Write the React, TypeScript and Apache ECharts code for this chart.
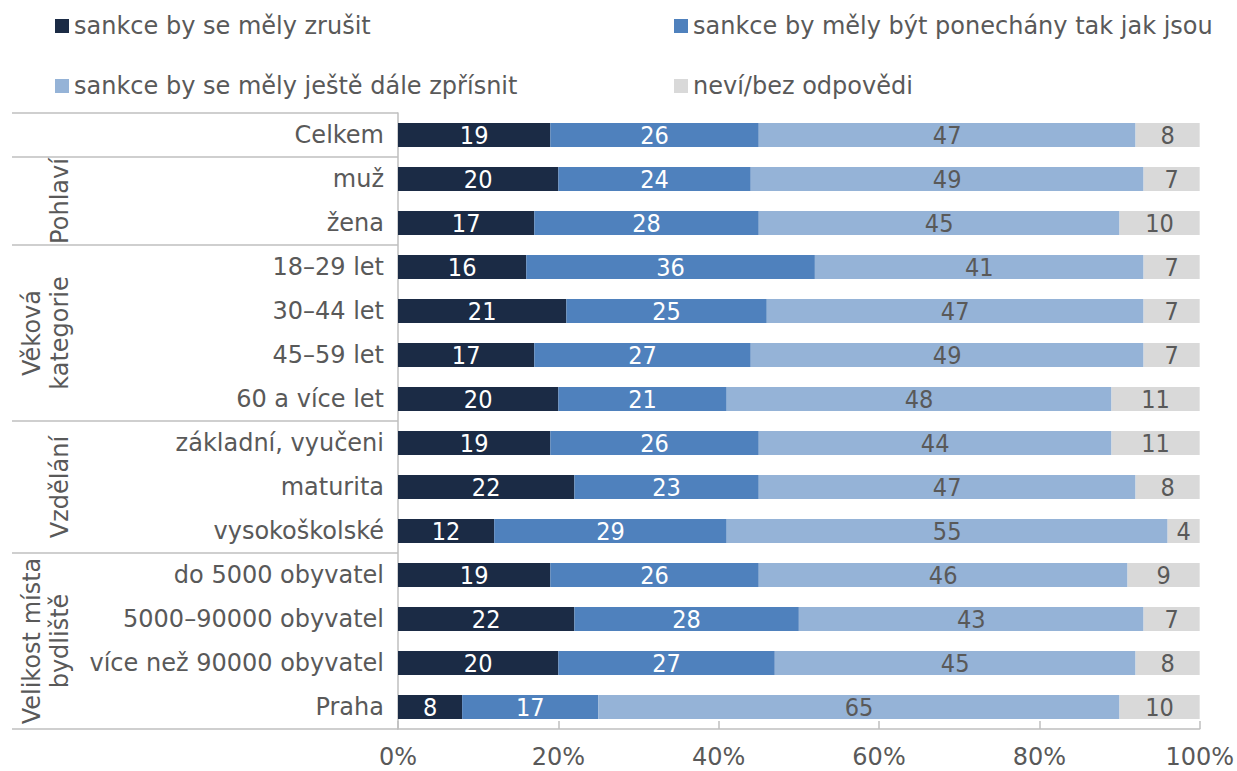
import React, { useEffect, useRef } from "react";
import * as echarts from "echarts";

const categories = [
  "Celkem",
  "muž",
  "žena",
  "18–29 let",
  "30–44 let",
  "45–59 let",
  "60 a více let",
  "základní, vyučeni",
  "maturita",
  "vysokoškolské",
  "do 5000 obyvatel",
  "5000–90000 obyvatel",
  "více než 90000 obyvatel",
  "Praha",
];
const seriesNames = [
  "sankce by se měly zrušit",
  "sankce by měly být ponechány tak jak jsou",
  "sankce by se měly ještě dále zpřísnit",
  "neví/bez odpovědi",
];
const zrusit = [19, 20, 17, 16, 21, 17, 20, 19, 22, 12, 19, 22, 20, 8];
const ponechat = [26, 24, 28, 36, 25, 27, 21, 26, 23, 29, 26, 28, 27, 17];
const zprisnit = [47, 49, 45, 41, 47, 49, 48, 44, 47, 55, 46, 43, 45, 65];
const nevi = [8, 7, 10, 7, 7, 7, 11, 11, 8, 4, 9, 7, 8, 10];
const groupLabels = ["", "Pohlaví", "Věková\nkategorie", "Vzdělání", "Velikost místa\nbydliště"];
const groupSizes = [1, 2, 4, 3, 4];

const colors = ["#1B2B45", "#4F81BD", "#95B3D7", "#D9D9D9"];
const labelColors = ["#FFFFFF", "#FFFFFF", "#595959", "#595959"];
const FONT = "'DejaVu Sans', Verdana, sans-serif";
const COND = "'DejaVu Sans Condensed', 'DejaVu Sans', sans-serif";
const GREY = "#595959";
const LINE = "#BFBFBF";

const GRID_LEFT = 398;

export default function App() {
  const ref = useRef<HTMLDivElement>(null);
  useEffect(() => {
    document.body.style.margin = "0";
    const chart = echarts.init(ref.current!, null, { renderer: "svg" });
    const values = [zrusit, ponechat, zprisnit, nevi];
    const legendPos = [
      { left: 55, top: 11 },
      { left: 674, top: 11 },
      { left: 55, top: 71 },
      { left: 674, top: 71 },
    ];
    const option: any = {
      animation: false,
      backgroundColor: "#fff",
      legend: seriesNames.map((n, i) => ({
        data: [n],
        left: legendPos[i].left,
        top: legendPos[i].top,
        padding: 0,
        icon: "rect",
        itemWidth: 14,
        itemHeight: 14,
        selectedMode: false,
        textStyle: { fontFamily: FONT, fontSize: 24, color: GREY, lineHeight: 30 },
      })),
      grid: { left: GRID_LEFT, right: 37, top: 113, bottom: 42, containLabel: false },
      xAxis: {
        type: "value",
        min: 0,
        max: 100,
        interval: 20,
        axisLine: { show: true, lineStyle: { color: LINE, width: 1.5 } },
        axisTick: { show: true, inside: true, length: 8, lineStyle: { color: LINE, width: 1.5 } },
        splitLine: { show: false },
        axisLabel: {
          formatter: "{value}%",
          fontFamily: FONT,
          fontSize: 24,
          lineHeight: 24,
          color: GREY,
          margin: 16,
        },
      },
      yAxis: {
        type: "category",
        inverse: true,
        data: categories,
        axisLine: { show: true, lineStyle: { color: LINE, width: 1.5 } },
        axisTick: { show: false },
        axisLabel: { fontFamily: FONT, fontSize: 24, color: GREY, margin: 14 },
      },
      series: seriesNames.map((n, i) => ({
        name: n,
        type: "bar",
        stack: "total",
        barWidth: 24,
        data: values[i],
        itemStyle: { color: colors[i] },
        label: {
          show: true,
          position: "inside",
          fontFamily: COND,
          fontSize: 25,
          color: labelColors[i],
        },
      })),
    };
    chart.setOption(option);

    const pix = (i: number) => chart.convertToPixel({ yAxisIndex: 0 }, categories[i]) as number;
    const band = pix(1) - pix(0);
    const graphic: any[] = [];
    let start = 0;
    const lineAt = (y: number) => ({
      type: "line",
      shape: { x1: 12, y1: y, x2: GRID_LEFT, y2: y },
      style: { stroke: LINE, lineWidth: 1.5 },
      silent: true,
    });
    groupSizes.forEach((size, g) => {
      const top = pix(start) - band / 2;
      const bottom = pix(start + size - 1) + band / 2;
      graphic.push(lineAt(top));
      if (g === groupSizes.length - 1) graphic.push(lineAt(bottom));
      if (groupLabels[g]) {
        graphic.push({
          type: "text",
          x: 74,
          y: (top + bottom) / 2,
          rotation: Math.PI / 2,
          silent: true,
          style: {
            text: groupLabels[g],
            fontFamily: FONT,
            fontSize: 24,
            lineHeight: 28,
            fill: GREY,
            align: "center",
            verticalAlign: "bottom",
          },
        });
      }
      start += size;
    });
    chart.setOption({ graphic });

    return () => chart.dispose();
  }, []);
  return (
    <div
      ref={ref}
      style={{ position: "fixed", left: 0, top: 0, width: 1237, height: 771 }}
    />
  );
}
